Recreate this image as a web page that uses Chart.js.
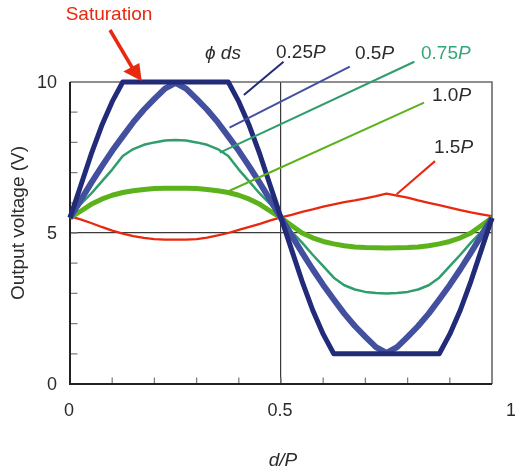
<!DOCTYPE html>
<html>
<head>
<meta charset="utf-8">
<script src="https://cdn.jsdelivr.net/npm/chart.js@4.4.1/dist/chart.umd.min.js"></script>
<style>
  html, body { margin: 0; padding: 0; background: #fff; }
  #wrap { width: 515px; height: 471px; position: relative; }
</style>
</head>
<body>
<div id="wrap"><canvas id="chart" width="515" height="471"></canvas></div>
<script>
// d/P positions (one pattern period)
const xs = [0, 0.025, 0.05, 0.075, 0.1, 0.125, 0.15, 0.175, 0.2, 0.225, 0.25,
  0.275, 0.3, 0.325, 0.35, 0.375, 0.4, 0.425, 0.45, 0.475, 0.5,
  0.525, 0.55, 0.575, 0.6, 0.625, 0.65, 0.675, 0.7, 0.725, 0.75,
  0.775, 0.8, 0.825, 0.85, 0.875, 0.9, 0.925, 0.95, 0.975, 1];

// output voltage (V) for each sensor width
const v025 = [5.5, 6.55, 7.6, 8.55, 9.35, 10, 10, 10, 10, 10, 10,
  10, 10, 10, 10, 10, 9.35, 8.55, 7.6, 6.55, 5.5,
  4.45, 3.4, 2.45, 1.65, 1, 1, 1, 1, 1, 1,
  1, 1, 1, 1, 1, 1.65, 2.45, 3.4, 4.45, 5.5];
const v050 = [5.5, 6.08, 6.65, 7.2, 7.72, 8.2, 8.67, 9.08, 9.44, 9.78, 9.97,
  9.78, 9.44, 9.08, 8.67, 8.2, 7.72, 7.2, 6.65, 6.08, 5.5,
  4.92, 4.35, 3.8, 3.28, 2.8, 2.33, 1.92, 1.56, 1.22, 1.03,
  1.22, 1.56, 1.92, 2.33, 2.8, 3.28, 3.8, 4.35, 4.92, 5.5];
const v075 = [5.5, 5.95, 6.3, 6.7, 7.1, 7.55, 7.78, 7.92, 8.0, 8.06, 8.08,
  8.06, 8.0, 7.92, 7.78, 7.55, 7.1, 6.7, 6.3, 5.95, 5.5,
  5.05, 4.68, 4.28, 3.9, 3.52, 3.27, 3.13, 3.05, 3.01, 3.0,
  3.01, 3.05, 3.13, 3.27, 3.52, 3.9, 4.28, 4.68, 5.05, 5.5];
const v100 = [5.5, 5.72, 5.95, 6.12, 6.25, 6.34, 6.4, 6.44, 6.47, 6.48, 6.48,
  6.48, 6.47, 6.44, 6.4, 6.34, 6.25, 6.12, 5.95, 5.72, 5.5,
  5.25, 5.0, 4.84, 4.72, 4.64, 4.58, 4.54, 4.52, 4.51, 4.5,
  4.51, 4.52, 4.54, 4.58, 4.64, 4.72, 4.84, 5.0, 5.25, 5.5];
const v150 = [5.55, 5.45, 5.33, 5.2, 5.08, 4.98, 4.9, 4.84, 4.8, 4.78, 4.78,
  4.78, 4.8, 4.85, 4.92, 5.0, 5.1, 5.2, 5.3, 5.42, 5.52,
  5.6, 5.7, 5.78, 5.87, 5.95, 6.02, 6.08, 6.15, 6.22, 6.3,
  6.24, 6.17, 6.08, 6.0, 5.92, 5.84, 5.76, 5.68, 5.62, 5.56];

const xTickVals = [0, 0.5, 1];
const xTickText = ["0", "0.5", "1"];
const yTickVals = [0, 5, 10];
const yTickText = ["0", "5", "10"];

const FONT = "'Liberation Sans', Arial, 'DejaVu Sans', sans-serif";
const NAVY = "#222b78", BLUE = "#4350a0", GREEN = "#2f9e6c", LIME = "#5cb21b", RED = "#e8280f";

function series(vals, color, width) {
  return {
    data: xs.map((x, i) => ({ x, y: vals[i] })),
    borderColor: color,
    borderWidth: width,
    pointRadius: 0,
    tension: 0,
    borderJoinStyle: "round",
    clip: false,
  };
}

// callout lines drawn in data units, from curve to label
const callouts = [
  { color: NAVY, from: [0.412, 9.57], to: [0.506, 10.67] },
  { color: BLUE, from: [0.378, 8.49], to: [0.663, 10.51] },
  { color: GREEN, from: [0.355, 7.66], to: [0.816, 10.67] },
  { color: LIME, from: [0.378, 6.40], to: [0.839, 9.32] },
  { color: RED, from: [0.774, 6.28], to: [0.865, 7.38] },
];

function drawParts(ctx, parts, x, y, color) {
  let cx = x;
  parts.forEach(([txt, italic]) => {
    ctx.font = `${italic ? "italic " : ""}19px ${FONT}`;
    ctx.fillStyle = color;
    ctx.fillText(txt, cx, y);
    cx += ctx.measureText(txt).width;
  });
}

const decor = {
  id: "decor",
  beforeDatasetsDraw(chart) {
    const { ctx, chartArea: a, scales: { x, y } } = chart;
    ctx.save();
    ctx.strokeStyle = "#808080";
    ctx.lineWidth = 1.3;
    ctx.beginPath();
    for (let i = 1; i < 10; i++) {
      const px = x.getPixelForValue(i / 10);
      ctx.moveTo(px, a.bottom);
      ctx.lineTo(px, a.bottom - 6.5);
      const py = y.getPixelForValue(i);
      ctx.moveTo(a.left, py);
      ctx.lineTo(a.left + 7.5, py);
    }
    ctx.stroke();
    // frame: light top/right, dark left/bottom
    ctx.strokeStyle = "#6a6a6a";
    ctx.lineWidth = 1.6;
    ctx.beginPath();
    ctx.moveTo(a.left, a.top);
    ctx.lineTo(a.right, a.top);
    ctx.lineTo(a.right, a.bottom);
    ctx.stroke();
    ctx.strokeStyle = "#222";
    ctx.lineWidth = 2;
    ctx.beginPath();
    ctx.moveTo(a.left, a.top);
    ctx.lineTo(a.left, a.bottom);
    ctx.lineTo(a.right, a.bottom);
    ctx.stroke();
    ctx.restore();
  },
  afterDatasetsDraw(chart) {
    const { ctx, chartArea: a, scales: { x, y } } = chart;
    ctx.save();
    // callouts
    ctx.lineWidth = 2;
    callouts.forEach((c) => {
      ctx.strokeStyle = c.color;
      ctx.beginPath();
      ctx.moveTo(x.getPixelForValue(c.from[0]), y.getPixelForValue(c.from[1]));
      ctx.lineTo(x.getPixelForValue(c.to[0]), y.getPixelForValue(c.to[1]));
      ctx.stroke();
    });

    // tick labels
    ctx.fillStyle = "#2b2b2b";
    ctx.font = `18px ${FONT}`;
    ctx.textBaseline = "middle";
    ctx.textAlign = "center";
    xTickVals.forEach((v, i) => {
      const nudge = v === 1 ? 19 : -1;
      ctx.fillText(xTickText[i], x.getPixelForValue(v) + nudge, 411);
    });
    ctx.textAlign = "right";
    yTickVals.forEach((v, i) => {
      ctx.fillText(yTickText[i], 57, y.getPixelForValue(v) + 1);
    });

    // axis titles
    ctx.textAlign = "center";
    ctx.font = `italic 19px ${FONT}`;
    ctx.fillText("d/P", 283, 461);
    ctx.save();
    ctx.translate(19, 223);
    ctx.rotate(-Math.PI / 2);
    ctx.font = `19px ${FONT}`;
    ctx.fillText("Output voltage (V)", 0, 0);
    ctx.restore();

    // series labels
    ctx.textAlign = "left";
    ctx.font = `italic 19px ${FONT}`;
    ctx.fillText("\u03d5 ds", 205, 54);
    drawParts(ctx, [["0.25", false], ["P", true]], 276, 53, "#2b2b2b");
    drawParts(ctx, [["0.5", false], ["P", true]], 355, 54, "#2b2b2b");
    drawParts(ctx, [["0.75", false], ["P", true]], 421, 54, "#34a874");
    drawParts(ctx, [["1.0", false], ["P", true]], 432, 96, "#2b2b2b");
    drawParts(ctx, [["1.5", false], ["P", true]], 434, 148, "#2b2b2b");

    // saturation note with arrow
    ctx.textAlign = "center";
    ctx.fillStyle = RED;
    ctx.font = `19px ${FONT}`;
    ctx.fillText("Saturation", 109, 15);
    ctx.strokeStyle = RED;
    ctx.lineWidth = 3.5;
    ctx.beginPath();
    ctx.moveTo(110, 30);
    ctx.lineTo(133, 69);
    ctx.stroke();
    ctx.beginPath();
    ctx.moveTo(141.7, 81);
    ctx.lineTo(123.3, 71.5);
    ctx.lineTo(139.3, 63);
    ctx.closePath();
    ctx.fill();
    ctx.restore();
  },
};

chart = new Chart(document.getElementById("chart"), {
  type: "line",
  data: {
    datasets: [
      series(v025, NAVY, 5),
      series(v050, BLUE, 6),
      series(v075, GREEN, 2.5),
      series(v100, LIME, 5),
      series(v150, RED, 2.3),
    ],
  },
  options: {
    responsive: false,
    animation: false,
    devicePixelRatio: 1,
    layout: { padding: { left: 70, top: 82, right: 23, bottom: 87 } },
    plugins: { legend: { display: false }, tooltip: { enabled: false } },
    scales: {
      x: {
        type: "linear",
        min: 0,
        max: 1,
        ticks: { display: false, stepSize: 0.5 },
        grid: {
          drawTicks: false,
          color: (c) => (c.tick && c.tick.value === 0.5 ? "#3a3a3a" : "rgba(0,0,0,0)"),
          lineWidth: 1.2,
        },
        border: { display: false },
      },
      y: {
        type: "linear",
        min: 0,
        max: 10,
        ticks: { display: false, stepSize: 5 },
        grid: {
          drawTicks: false,
          color: (c) => (c.tick && c.tick.value === 5 ? "#3a3a3a" : "rgba(0,0,0,0)"),
          lineWidth: 1.2,
        },
        border: { display: false },
      },
    },
  },
  plugins: [decor],
});
</script>
</body>
</html>
